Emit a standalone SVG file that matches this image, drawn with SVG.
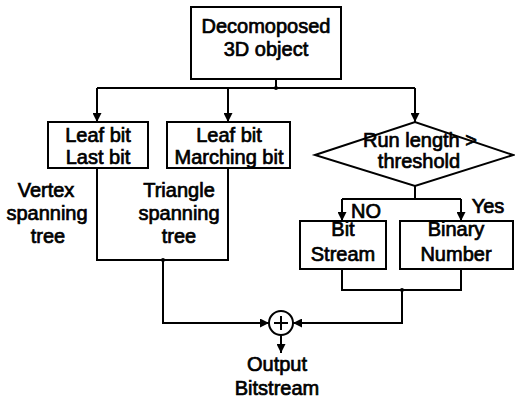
<svg xmlns="http://www.w3.org/2000/svg" width="515" height="399" viewBox="0 0 515 399">
<style>
.b{fill:#fff;stroke:#000;stroke-width:2}
.t{font-family:"Liberation Sans",Arial,sans-serif;font-size:20px;text-anchor:middle;fill:#000;stroke:#000;stroke-width:0.7}
.c{fill:none;stroke:#000;stroke-width:2}
</style>
<defs>
<marker id="a" viewBox="0 0 10 10" refX="10" refY="5" markerWidth="4.5" markerHeight="4.5" orient="auto" markerUnits="strokeWidth">
<path d="M0,0 L10,5 L0,10 z" fill="#000"/>
</marker>
</defs>
<rect width="515" height="399" fill="#fff"/>
<g id="connectors" class="c">
<path d="M276,79 V88"/>
<path d="M97,88 H415"/>
<path d="M97,88 V122" marker-end="url(#a)"/>
<path d="M228,88 V122" marker-end="url(#a)"/>
<path d="M415,88 V122" marker-end="url(#a)"/>
<path d="M415,186 V199"/>
<path d="M342,199 H461"/>
<path d="M342,199 V221" marker-end="url(#a)"/>
<path d="M461,199 V221" marker-end="url(#a)"/>
<path d="M97,168 V260 H228 V168"/>
<path d="M163,260 V323 H269" marker-end="url(#a)"/>
<path d="M342,269 V290 H461 V269"/>
<path d="M402,290 V323 H293" marker-end="url(#a)"/>
<path d="M281,335 V353" marker-end="url(#a)"/>
<circle cx="276" cy="88" r="2" fill="#000" stroke="none"/>
<circle cx="163" cy="260" r="2" fill="#000" stroke="none"/>
<circle cx="402" cy="290" r="2" fill="#000" stroke="none"/>
</g>
<g id="top">
<rect class="b" x="191" y="7" width="150" height="72"/>
<text class="t" x="266" y="33">Decomoposed</text>
<text class="t" x="266" y="56">3D object</text>
</g>
<g id="leaf1">
<rect class="b" x="48" y="122" width="100" height="46"/>
<text class="t" x="98" y="142">Leaf bit</text>
<text class="t" x="98" y="164">Last bit</text>
</g>
<g id="leaf2">
<rect class="b" x="167" y="122" width="123" height="46"/>
<text class="t" x="229" y="142">Leaf bit</text>
<text class="t" x="229" y="164">Marching bit</text>
</g>
<g id="decision">
<polygon class="b" points="315,155 415,122 513,155 415,186"/>
<text class="t" x="420" y="147">Run length &gt;</text>
<text class="t" x="419" y="168">threshold</text>
</g>
<g id="bitstream">
<rect class="b" x="300" y="221" width="86" height="48"/>
<text class="t" x="343" y="236">Bit</text>
<text class="t" x="343" y="261">Stream</text>
</g>
<g id="binary">
<rect class="b" x="400" y="221" width="113" height="48"/>
<text class="t" x="456" y="236">Binary</text>
<text class="t" x="456" y="261">Number</text>
</g>
<g id="sum">
<circle cx="281" cy="323" r="12" fill="#fff" stroke="#000" stroke-width="2"/>
<path d="M281,316 V330 M274,323 H288" stroke="#000" stroke-width="2"/>
</g>
<g id="labels">
<text class="t" x="46" y="197">Vertex</text>
<text class="t" x="47" y="220">spanning</text>
<text class="t" x="48" y="243">tree</text>
<text class="t" x="179" y="197">Triangle</text>
<text class="t" x="179" y="220">spanning</text>
<text class="t" x="179" y="243">tree</text>
<text class="t" x="366" y="218">NO</text>
<text class="t" x="488" y="213">Yes</text>
<text class="t" x="277" y="371">Output</text>
<text class="t" x="277" y="395">Bitstream</text>
</g>
</svg>
